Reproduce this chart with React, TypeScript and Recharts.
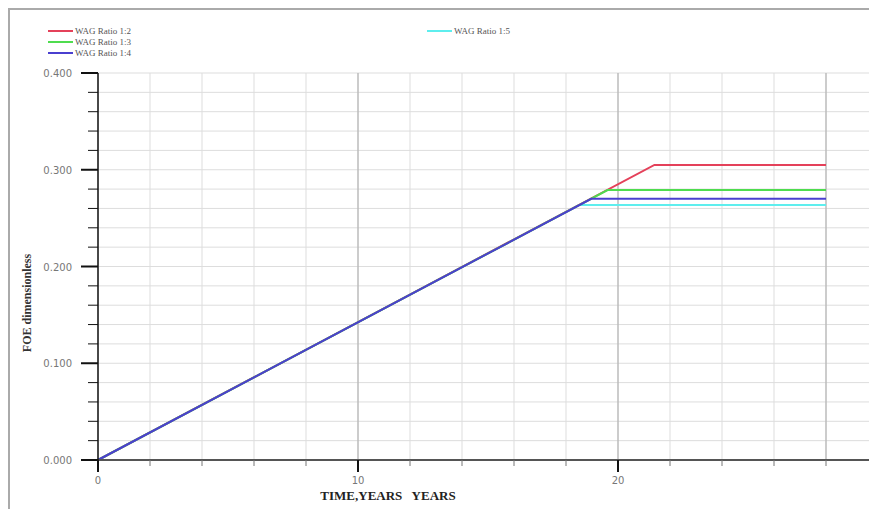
import React from 'react';
import {
  LineChart,
  Line,
  XAxis,
  YAxis,
  CartesianGrid,
  ReferenceLine,
  Legend
} from 'recharts';

// time (years) at each point of a series, and the FOE value there
const years12 = [0, 21.4, 28];
const foe12 = [0, 0.305, 0.305];
const years13 = [0, 19.6, 28];
const foe13 = [0, 0.279, 0.279];
const years14 = [0, 18.97, 28];
const foe14 = [0, 0.27, 0.27];
const years15 = [0, 18.5, 28];
const foe15 = [0, 0.2636, 0.2636];

const seriesNames = ['WAG Ratio 1:2', 'WAG Ratio 1:3', 'WAG Ratio 1:4', 'WAG Ratio 1:5'];
const seriesColors = ['#e4415a', '#4fdc4f', '#4a3fcf', '#5eeeee'];

const xTicks = [0, 2, 4, 6, 8, 10, 12, 14, 16, 18, 20, 22, 24, 26, 28, 30];
const yTicks = [0, 0.02, 0.04, 0.06, 0.08, 0.1, 0.12, 0.14, 0.16, 0.18, 0.2, 0.22, 0.24, 0.26, 0.28, 0.3, 0.32, 0.34, 0.36, 0.38, 0.4];
const darkGridYears = [10, 20, 28];

const toPoints = (t: number[], v: number[]) => t.map((x, i) => ({ t: x, v: v[i] }));

const series = [
  { name: seriesNames[3], color: seriesColors[3], data: toPoints(years15, foe15) },
  { name: seriesNames[0], color: seriesColors[0], data: toPoints(years12, foe12) },
  { name: seriesNames[1], color: seriesColors[1], data: toPoints(years13, foe13) },
  { name: seriesNames[2], color: seriesColors[2], data: toPoints(years14, foe14) }
];

const tickFont = { fontFamily: '"DejaVu Sans", sans-serif', fontSize: 10, fill: '#777' };

const XTick = ({ x, y, payload }: any) => {
  const major = payload.value % 10 === 0;
  return (
    <g>
      <line x1={x} x2={x} y1={y} y2={y + (major ? 12 : 6)} stroke={major ? '#111' : '#777'} strokeWidth={major ? 2 : 1} />
      {major && (
        <text x={x} y={y + 24} textAnchor="middle" {...tickFont}>
          {payload.value}
        </text>
      )}
    </g>
  );
};

const YTick = ({ x, y, payload }: any) => {
  const major = Math.round(payload.value * 100) % 10 === 0;
  return (
    <g>
      <line x1={x - (major ? 17 : 10)} x2={x} y1={y} y2={y} stroke="#111" strokeWidth={major ? 2 : 1} />
      {major && (
        <text x={x - 26} y={y + 4} textAnchor="end" {...tickFont}>
          {payload.value.toFixed(3)}
        </text>
      )}
    </g>
  );
};

const legendPos = [
  { left: 48, top: 26 },
  { left: 48, top: 37 },
  { left: 48, top: 48 },
  { left: 427, top: 26 }
];

const renderLegend = () => (
  <div style={{ position: 'relative', width: 600, height: 60 }}>
    {seriesNames.map((n, i) => (
      <div
        key={n}
        style={{
          position: 'absolute',
          left: legendPos[i].left,
          top: legendPos[i].top,
          display: 'flex',
          alignItems: 'center',
          fontFamily: '"Liberation Serif", serif',
          fontSize: 9,
          color: '#555',
          whiteSpace: 'nowrap',
          lineHeight: '10px'
        }}
      >
        <span style={{ display: 'inline-block', width: 25, height: 2, background: seriesColors[i], marginRight: 2 }} />
        {n}
      </div>
    ))}
  </div>
);

export default function App() {
  return (
    <div style={{ position: 'fixed', left: 0, top: 0, width: 869, height: 509, overflow: 'hidden', background: '#fff' }}>
      <div style={{ position: 'absolute', left: 8, top: 8, width: 900, height: 600, borderTop: '2px solid #aaa', borderLeft: '2px solid #aaa' }} />
      <LineChart width={900} height={509} margin={{ top: 73, right: 22, bottom: 0, left: 0 }} style={{ position: 'absolute', left: 0, top: 0 }}>
        <CartesianGrid stroke="#ddd" strokeWidth={1} />
        {darkGridYears.map((yr) => (
          <ReferenceLine key={yr} x={yr} stroke="#aaa" strokeWidth={1} />
        ))}
        <XAxis
          type="number"
          dataKey="t"
          domain={[0, 30]}
          ticks={xTicks}
          height={49}
          tickSize={0}
          tickMargin={0}
          tickLine={false}
          axisLine={{ stroke: '#555', strokeWidth: 2 }}
          tick={<XTick />}
          interval={0}
        />
        <YAxis
          type="number"
          domain={[0, 0.4]}
          ticks={yTicks}
          width={98}
          tickSize={0}
          tickMargin={0}
          tickLine={false}
          axisLine={{ stroke: '#111', strokeWidth: 1.5 }}
          tick={<YTick />}
          interval={0}
        />
        <Legend
          layout="vertical"
          align="center"
          verticalAlign="middle"
          content={renderLegend}
          wrapperStyle={{ position: 'absolute', left: 0, top: 0, width: 600, height: 60 }}
        />
        {series.map((s) => (
          <Line
            key={s.name}
            data={s.data}
            dataKey="v"
            name={s.name}
            type="linear"
            stroke={s.color}
            strokeWidth={2}
            dot={false}
            isAnimationActive={false}
          />
        ))}
        <text x={27} y={303} transform="rotate(-90 27 303)" textAnchor="middle" dominantBaseline="central" fontFamily='"Liberation Serif", serif' fontWeight="bold" fontSize={12} fill="#333">
          FOE dimensionless
        </text>
        <text x={388} y={500} textAnchor="middle" fontFamily='"Liberation Serif", serif' fontWeight="bold" fontSize={13} fill="#222" style={{ whiteSpace: 'pre' }}>
          {'TIME,YEARS   YEARS'}
        </text>
      </LineChart>
    </div>
  );
}
